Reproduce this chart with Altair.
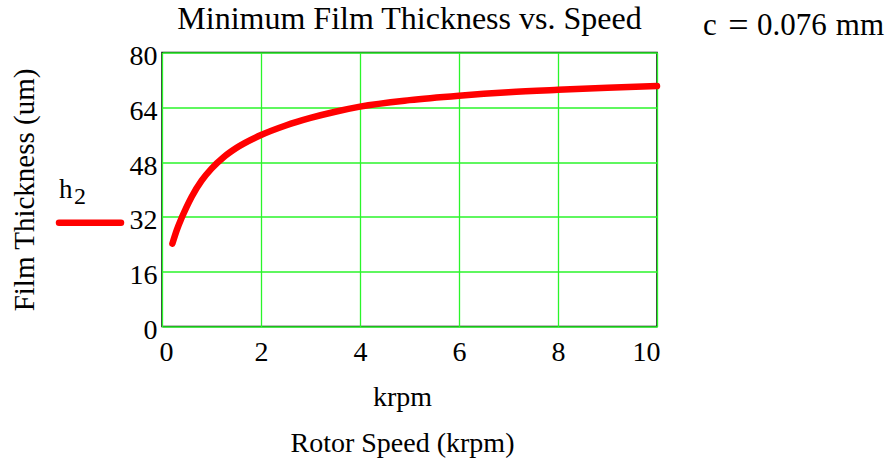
import altair as alt
import pandas as pd

# ---- data ----
speed_krpm = [0.21, 0.3, 0.4, 0.5, 0.6, 0.8, 1.0, 1.25, 1.5, 2.0, 2.5, 3.0, 3.5, 4.0, 5.0, 6.0, 7.0, 8.0, 9.0, 10.0]
film_um = [24.2, 28.2, 31.8, 35.0, 37.9, 42.6, 46.1, 49.5, 52.1, 55.9, 58.7, 60.9, 62.7, 64.2, 66.1, 67.4, 68.4, 69.1, 69.7, 70.2]

x_ticks = [0, 2, 4, 6, 8, 10]
y_ticks = [0, 16, 32, 48, 64, 80]

title_text = ["Minimum Film Thickness vs. Speed"]
note_parts = ["c", "=", "0.076", "mm"]
legend_main = ["h"]
legend_sub = ["2"]
y_title = "Film Thickness (um)"
x_title_lines = ["krpm", "Rotor Speed (krpm)"]

FONT = "Liberation Serif"
W, H = 495, 274
LEFT, TOP = 162, 52.5
GRID = "#2af52a"

df = pd.DataFrame({"speed": speed_krpm, "film": film_um})

line = alt.Chart(df).mark_line(
    color="#ff0000", strokeWidth=6.5, strokeCap="round", strokeJoin="round", interpolate="monotone"
).encode(
    x=alt.X("speed:Q", scale=alt.Scale(domain=[0, 10], nice=False, zero=False),
            axis=alt.Axis(values=x_ticks, title=x_title_lines, grid=True, gridColor=GRID,
                          gridWidth=1.3, domain=False, ticks=False, tickSize=0,
                          labelFont=FONT, labelFontSize=28, labelColor="black", labelPadding=12,
                          labelFlush=True, labelFlushOffset=3, format="d",
                          titleFont=FONT, titleFontSize=28, titleFontWeight="normal", titleColor="black",
                          titleX=240, titleY=78.5, titleAlign="center", titleBaseline="alphabetic",
                          titleLineHeight=46)),
    y=alt.Y("film:Q", scale=alt.Scale(domain=[0, 80], nice=False, zero=False),
            axis=alt.Axis(values=y_ticks, title=y_title, grid=True, gridColor=GRID,
                          gridWidth=1.3, domain=False, ticks=False, tickSize=0,
                          labelFont=FONT, labelFontSize=28, labelColor="black", labelPadding=5,
                          labelOffset=4, format="d",
                          titleFont=FONT, titleFontSize=29, titleFontWeight="normal", titleColor="black",
                          titleAngle=270, titleX=-129, titleY=H / 2, titleAlign="center",
                          titleBaseline="alphabetic")),
)

title_layer = alt.Chart(pd.DataFrame({"t": title_text})).mark_text(
    font=FONT, fontSize=32, color="black", align="center", baseline="alphabetic"
).encode(text="t:N", x=alt.value(409.5 - LEFT), y=alt.value(28.5 - TOP))

note_c = alt.Chart(pd.DataFrame({"t": note_parts[0:1]})).mark_text(
    font=FONT, fontSize=31, color="black", align="left", baseline="alphabetic"
).encode(text="t:N", x=alt.value(703 - LEFT), y=alt.value(35 - TOP))

note_eq = alt.Chart(pd.DataFrame({"t": note_parts[1:2]})).mark_text(
    font=FONT, fontSize=36, color="black", align="center", baseline="alphabetic"
).encode(text="t:N", x=alt.value(738.5 - LEFT), y=alt.value(37 - TOP))

note_val = alt.Chart(pd.DataFrame({"t": note_parts[2:3]})).mark_text(
    font=FONT, fontSize=31, color="black", align="left", baseline="alphabetic"
).encode(text="t:N", x=alt.value(757 - LEFT), y=alt.value(35 - TOP))

note_unit = alt.Chart(pd.DataFrame({"t": note_parts[3:4]})).mark_text(
    font=FONT, fontSize=31, color="black", align="right", baseline="alphabetic"
).encode(text="t:N", x=alt.value(884 - LEFT), y=alt.value(35 - TOP))

leg_main = alt.Chart(pd.DataFrame({"t": legend_main})).mark_text(
    font=FONT, fontSize=27, color="black", align="left", baseline="alphabetic"
).encode(text="t:N", x=alt.value(59 - LEFT), y=alt.value(198 - TOP))

leg_sub = alt.Chart(pd.DataFrame({"t": legend_sub})).mark_text(
    font=FONT, fontSize=24, color="black", align="left", baseline="alphabetic"
).encode(text="t:N", x=alt.value(74 - LEFT), y=alt.value(204 - TOP))

leg_line = alt.Chart(pd.DataFrame({"t": legend_main})).mark_rule(
    color="#ff0000", strokeWidth=6.5, strokeCap="round"
).encode(x=alt.value(59 - LEFT), x2=alt.value(121 - LEFT), y=alt.value(222.7 - TOP))

chart = alt.layer(line, title_layer, note_c, note_eq, note_val, note_unit,
                  leg_main, leg_sub, leg_line).properties(
    width=W, height=H,
    padding={"left": LEFT, "top": TOP, "right": 890 - LEFT - W, "bottom": 462 - TOP - H},
    autosize=alt.AutoSizeParams(type="none"),
    background="white",
).configure_view(stroke="black", strokeWidth=1.5)

chart.save("out.html", embed_options={"renderer": "svg", "actions": False})
